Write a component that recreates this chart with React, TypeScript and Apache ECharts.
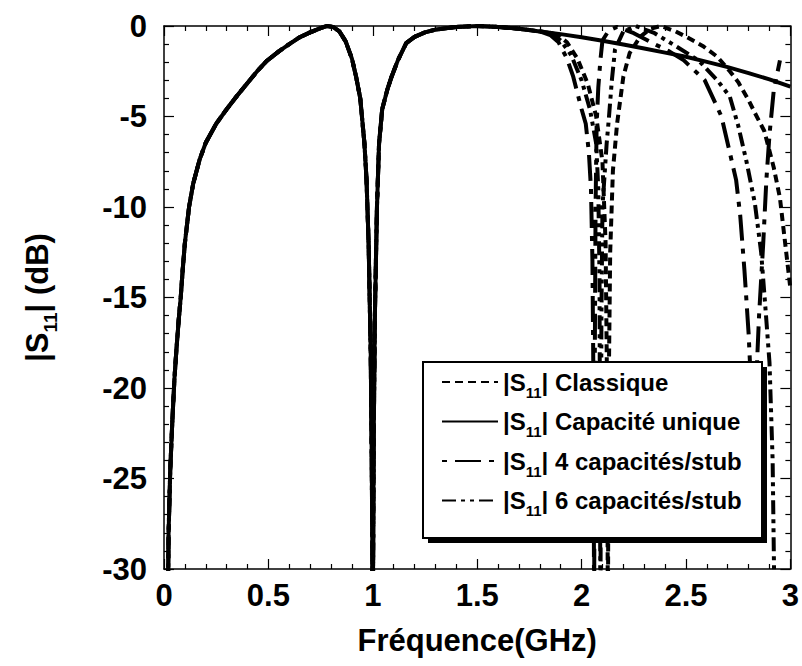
import React, { useEffect, useRef } from "react";
import * as echarts from "echarts";

const FONT = "'Liberation Sans', Arial, sans-serif";

const xTicks = [0, 0.5, 1, 1.5, 2, 2.5, 3];
const yTicks = [-30, -25, -20, -15, -10, -5, 0];

const seriesNames = ["Classique", "Capacité unique", "4 capacités/stub", "6 capacités/stub"];

// common part shared by all responses (0 to 1.8 GHz)
const commonPts: [number, number][] = [
  [0.018, -33], [0.022, -28], [0.03, -24.5], [0.04, -21.8], [0.05, -19.5], [0.06, -17.8],
  [0.07, -16.3], [0.08, -15], [0.09, -13.4], [0.1, -12], [0.12, -10], [0.14, -8.7],
  [0.17, -7.4], [0.2, -6.45], [0.25, -5.4], [0.3, -4.6], [0.35, -3.85], [0.4, -3.15],
  [0.45, -2.45], [0.49, -1.95], [0.55, -1.4], [0.6, -1.0], [0.65, -0.62], [0.7, -0.35],
  [0.75, -0.12], [0.78, 0], [0.81, -0.05], [0.84, -0.3], [0.87, -0.85], [0.9, -1.8],
  [0.92, -2.8], [0.94, -4], [0.96, -6.5], [0.97, -8.5], [0.98, -12], [0.99, -18],
  [0.995, -24], [1.0, -33], [1.005, -22], [1.01, -16], [1.02, -10], [1.03, -6.5],
  [1.045, -4.6], [1.07, -3.5], [1.09, -2.8], [1.12, -1.9], [1.16, -0.95], [1.2, -0.6],
  [1.25, -0.35], [1.3, -0.2], [1.4, -0.05], [1.5, 0], [1.6, -0.05], [1.7, -0.15], [1.8, -0.3],
];

const uniqueTail: [number, number][] = [
  [1.9, -0.45], [2.0, -0.62], [2.1, -0.82], [2.2, -1.02], [2.3, -1.24], [2.4, -1.47],
  [2.5, -1.7], [2.6, -1.98], [2.7, -2.27], [2.8, -2.6], [2.9, -2.95], [3.0, -3.35],
];

const classiqueTail: [number, number][] = [
  [1.88, -0.45], [1.93, -0.9], [1.98, -1.8], [2.03, -3.2], [2.07, -5], [2.1, -7.5],
  [2.115, -12], [2.122, -20], [2.126, -33], [2.13, -20], [2.137, -12.5], [2.15, -8],
  [2.17, -5.4], [2.2, -2.8], [2.23, -1.5], [2.28, -0.6], [2.33, -0.15], [2.38, 0],
  [2.45, -0.3], [2.51, -0.65], [2.58, -1.1], [2.65, -1.7], [2.71, -2.5], [2.75, -3.1],
  [2.8, -4.1], [2.83, -4.8], [2.875, -5.8], [2.92, -7.8], [2.95, -9.5], [2.97, -11.5],
  [2.99, -13.5], [3.0, -14.5],
];

const cap4Tail: [number, number][] = [
  [1.85, -0.5], [1.89, -0.9], [1.93, -1.8], [1.96, -2.8], [1.98, -3.7], [2.0, -4.6],
  [2.02, -5.4], [2.035, -7], [2.045, -9], [2.052, -13], [2.057, -20], [2.06, -33],
  [2.063, -19], [2.067, -10], [2.072, -5.5], [2.08, -3.4], [2.09, -1.9], [2.1, -0.8],
  [2.13, -0.25], [2.17, -0.05], [2.25, -0.4], [2.35, -1.0], [2.42, -1.4], [2.49, -1.9],
  [2.59, -3], [2.67, -5], [2.71, -7], [2.74, -8.5], [2.76, -10.5], [2.78, -13.5],
  [2.8, -17], [2.82, -22], [2.835, -20], [2.85, -16], [2.87, -12], [2.885, -8.5],
  [2.9, -6], [2.92, -3.6], [2.95, -1.9],
];

const cap6Tail: [number, number][] = [
  [1.86, -0.4], [1.9, -0.8], [1.95, -1.6], [2.0, -3], [2.04, -4.6], [2.07, -6.5],
  [2.08, -9], [2.086, -14], [2.09, -33], [2.095, -16], [2.1, -10], [2.12, -6.5],
  [2.13, -5.2], [2.145, -3], [2.16, -1.3], [2.2, -0.3], [2.26, 0], [2.35, -0.4],
  [2.45, -1.1], [2.56, -1.9], [2.65, -3], [2.71, -3.9], [2.75, -5.5], [2.79, -7.5],
  [2.83, -9.8], [2.86, -12.5], [2.88, -15.5], [2.9, -18.6], [2.915, -24], [2.925, -33],
];

const dashStyles: (number[] | "solid")[] = [[8, 5], "solid", [26, 8, 5, 8], [14, 5, 4, 5, 4, 5]];
const dashOffsets = [0, 0, 34, 0];
const tails = [classiqueTail, uniqueTail, cap4Tail, cap6Tail];

export default function App() {
  const ref = useRef<HTMLDivElement>(null);
  useEffect(() => {
    if (!ref.current) return;
    const chart = echarts.init(ref.current, undefined, { renderer: "svg" });
    const axisLine = { lineStyle: { color: "#000", width: 1.5 } };
    const tick = { inside: true, length: 10, lineStyle: { color: "#000", width: 1.2 } };
    const minor = { show: true, splitNumber: 5, length: 5, lineStyle: { color: "#000", width: 1.2 } };
    const labelStyle = { fontFamily: FONT, fontWeight: "bold" as const, fontSize: 31, color: "#000" };

    const series = seriesNames.map((name, i) => ({
      name,
      type: "line",
      xAxisIndex: 0,
      yAxisIndex: 0,
      symbol: "none",
      clip: true,
      data: commonPts.concat(tails[i]),
      lineStyle: { color: "#000", width: 4, type: dashStyles[i], dashOffset: dashOffsets[i], cap: "butt" },
      itemStyle: { color: "#000" },
      z: 2,
    }));

    chart.setOption({
      animation: false,
      backgroundColor: "#fff",
      grid: { left: 164, top: 26, right: 9, bottom: 97, containLabel: false },
      xAxis: [
        {
          type: "value", min: 0, max: 3, interval: 0.5, position: "bottom",
          axisLine: { ...axisLine, onZero: false }, axisTick: tick, minorTick: minor,
          splitLine: { show: false },
          axisLabel: { ...labelStyle, margin: 11, formatter: (v: number) => (xTicks.includes(v) ? String(v) : "") },
          name: "Fréquence(GHz)", nameLocation: "middle", nameGap: 56,
          nameTextStyle: { ...labelStyle },
        },
        {
          type: "value", min: 0, max: 3, interval: 0.5, position: "top",
          axisLine: { ...axisLine, onZero: false }, axisTick: tick, minorTick: minor,
          splitLine: { show: false }, axisLabel: { show: false },
        },
      ],
      yAxis: [
        {
          type: "value", min: -30, max: 0, interval: 5, position: "left",
          axisLine: { ...axisLine, onZero: false }, axisTick: tick, minorTick: minor,
          splitLine: { show: false },
          axisLabel: { ...labelStyle, margin: 17, formatter: (v: number) => (yTicks.includes(v) ? String(v) : "") },
          name: "|S{sub|11}| (dB)", nameLocation: "middle", nameGap: 104, nameRotate: 90,
          nameTextStyle: {
            ...labelStyle,
            rich: { sub: { fontFamily: FONT, fontWeight: "bold", fontSize: 19, color: "#000", padding: [26, 0, 0, 0] } },
          },
        },
        {
          type: "value", min: -30, max: 0, interval: 5, position: "right",
          axisLine: { ...axisLine, onZero: false }, axisTick: tick, minorTick: minor,
          splitLine: { show: false }, axisLabel: { show: false },
        },
      ],
      legend: {
        orient: "vertical",
        left: 436,
        top: 365,
        itemWidth: 56,
        itemHeight: 14,
        itemGap: 10,
        data: seriesNames,
        itemStyle: { opacity: 0 },
        formatter: (name: string) => `|S{sub|11}| ${name}`,
        textStyle: {
          fontFamily: FONT, fontWeight: "bold", fontSize: 24, color: "#000",
          rich: { sub: { fontFamily: FONT, fontWeight: "bold", fontSize: 15, color: "#000", padding: [20, 0, 0, 0] } },
        },
        z: 5,
      },
      graphic: [
        { type: "rect", z: 3, shape: { x: 428, y: 367, width: 339, height: 176 }, style: { fill: "#000" } },
        { type: "rect", z: 3, shape: { x: 423, y: 362, width: 339, height: 176 }, style: { fill: "#fff", stroke: "#000", lineWidth: 2 } },
      ],
      series,
    });
    return () => chart.dispose();
  }, []);
  return <div ref={ref} style={{ position: "fixed", left: 0, top: 0, width: 802, height: 666 }} />;
}
